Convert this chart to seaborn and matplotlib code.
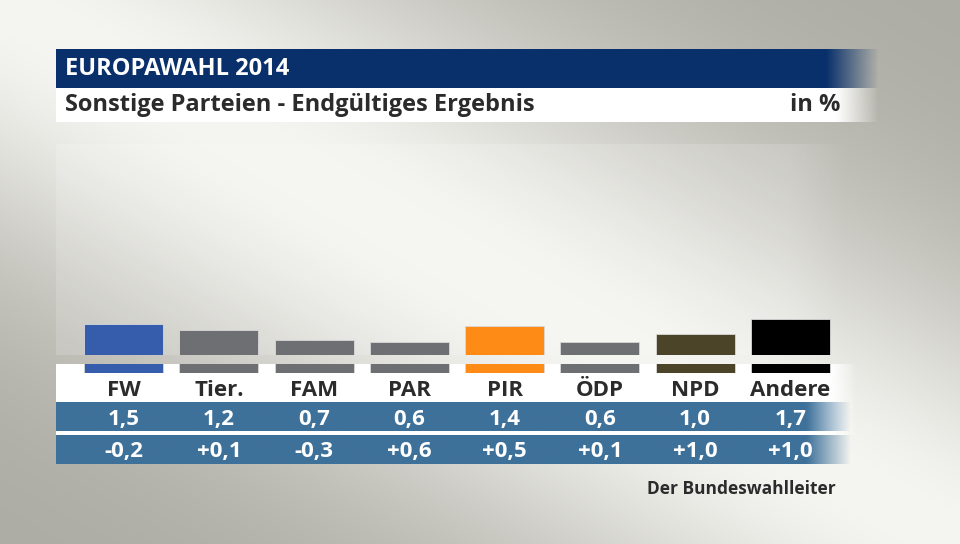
import numpy as np
import matplotlib
matplotlib.use('Agg')
import matplotlib.pyplot as plt
import matplotlib.colors as mcolors
import matplotlib.transforms as mtransforms
import pandas as pd
import seaborn as sns

# Daten
parteien = ['FW', 'Tier.', 'FAM', 'PAR', 'PIR', 'ÖDP', 'NPD', 'Andere']
ergebnis = [1.5, 1.2, 0.7, 0.6, 1.4, 0.6, 1.0, 1.7]
differenz = [-0.2, 0.1, -0.3, 0.6, 0.5, 0.1, 1.0, 1.0]
farben = ['#365dac', '#6e6f72', '#6e6f72', '#6e6f72', '#ff8b17', '#6e6f72', '#4c4428', '#000000']

titel = 'EUROPAWAHL 2014'
untertitel = 'Sonstige Parteien - Endgültiges Ergebnis'
einheit = 'in %'
quelle = 'Der Bundeswahlleiter'

W, H = 960, 544
TEXT = '#2b2b2b'
BLAU_ZEILE = '#3e719a'


def komma(v, vorzeichen=False):  # Zahl im deutschen Format
    s = f'{v:+.1f}' if vorzeichen else f'{v:.1f}'
    return s.replace('.', ',')


def streifen(ax, x0, x1, y0, y1, farbe, fade_von=None, alpha=1.0, zorder=1):  # Balken mit Ausblendung rechts
    n = 300
    xs = np.linspace(x0, x1, n)
    rgba = np.zeros((1, n, 4))
    rgba[..., :3] = mcolors.to_rgb(farbe)
    a = np.full(n, alpha)
    if fade_von is not None:
        a = alpha * np.clip((x1 - xs) / (x1 - fade_von), 0, 1)
    rgba[0, :, 3] = a
    ax.imshow(rgba, extent=(x0, x1, y1, y0), aspect='auto', zorder=zorder, interpolation='bilinear')


# Hintergrund: diagonaler heller Verlauf
yy, xx = np.mgrid[0:H, 0:W]
d = np.abs(yy - xx * H / W) / np.hypot(1, H / W)
t = np.exp(-(d / 230) ** 2)
hell = np.array([245, 245, 241]) / 255
dunkel = np.array([173, 172, 164]) / 255
hintergrund = dunkel + (hell - dunkel) * t[..., None]

sns.set_theme(style='white')
plt.rcParams['font.family'] = ['Open Sans', 'DejaVu Sans']

fig = plt.figure(figsize=(9.6, 5.44), dpi=100)

ax_bg = fig.add_axes([0, 0, 1, 1], zorder=0)
ax_bg.imshow(hintergrund, extent=(0, W, H, 0), aspect='auto', zorder=0)
streifen(ax_bg, 56, 880, 49, 88, '#09306b', fade_von=828)
streifen(ax_bg, 56, 880, 88, 122, 'white', fade_von=838)
streifen(ax_bg, 56, 850, 144, 355, 'white', fade_von=790, alpha=0.16)
streifen(ax_bg, 56, 858, 364, 435, 'white', fade_von=832)
streifen(ax_bg, 56, 852, 402, 431, BLAU_ZEILE, fade_von=808, zorder=2)
streifen(ax_bg, 56, 852, 435, 464, BLAU_ZEILE, fade_von=808, zorder=2)
ax_bg.set_xlim(0, W)
ax_bg.set_ylim(H, 0)
ax_bg.axis('off')

# Balkendiagramm
px_pro_einheit = 20.9
y_null, y_fuss, y_oben = 355, 373, 144
x_links, x_rechts = 76, 838
ax = fig.add_axes([x_links / W, (H - y_fuss) / H, (x_rechts - x_links) / W, (y_fuss - y_oben) / H], zorder=2)
ax.patch.set_alpha(0)

df = pd.DataFrame({'Partei': parteien, 'Ergebnis': ergebnis})
sns.barplot(
    data=df, x='Partei', y='Ergebnis', hue='Partei', palette=farben, legend=False,
    width=0.83, saturation=1, edgecolor='#d8d8d8', linewidth=0.6, ax=ax,
)
unten = -(y_fuss - y_null) / px_pro_einheit
oben = (y_null - y_oben) / px_pro_einheit
for p in ax.patches:  # Sockel unter der Nulllinie
    p.set_y(unten)
    p.set_height(p.get_height() - unten)
ax.set_ylim(unten, oben)
ax.set_xlim(-0.5, len(parteien) - 0.5)
ax.set_xlabel('')
ax.set_ylabel('')
ax.set_yticks([])
sns.despine(ax=ax, left=True, bottom=True)
ax.tick_params(axis='x', length=0, pad=5, labelsize=16, labelcolor=TEXT)
for lab in ax.get_xticklabels():
    lab.set_fontweight('bold')

# Vordergrund: Band über den Balken und Texte
ax_fg = fig.add_axes([0, 0, 1, 1], zorder=3)
ax_fg.imshow(hintergrund[355:364, 56:862], extent=(56, 862, 364, 355), aspect='auto')
ax_fg.set_xlim(0, W)
ax_fg.set_ylim(H, 0)
ax_fg.axis('off')

trans = mtransforms.blended_transform_factory(ax.transData, ax_fg.transData)
for i, (v, dv) in enumerate(zip(ergebnis, differenz)):
    ax.text(i, 419, komma(v), transform=trans, ha='center', va='center',
            color='white', fontsize=16, fontweight='bold')
    ax.text(i, 452, komma(dv, vorzeichen=True), transform=trans, ha='center', va='center',
            color='white', fontsize=16, fontweight='bold')

ax_fg.text(65, 69, titel, color='white', fontsize=17, fontweight='bold', va='center', ha='left')
ax_fg.text(65, 105, untertitel, color=TEXT, fontsize=17, fontweight='bold', va='center', ha='left')
ax_fg.text(840, 105, einheit, color=TEXT, fontsize=17, fontweight='bold', va='center', ha='right')
ax_fg.text(836, 489, quelle, color=TEXT, fontsize=12.5, fontweight='bold', va='center', ha='right')

fig.savefig('out.png', dpi=100)
